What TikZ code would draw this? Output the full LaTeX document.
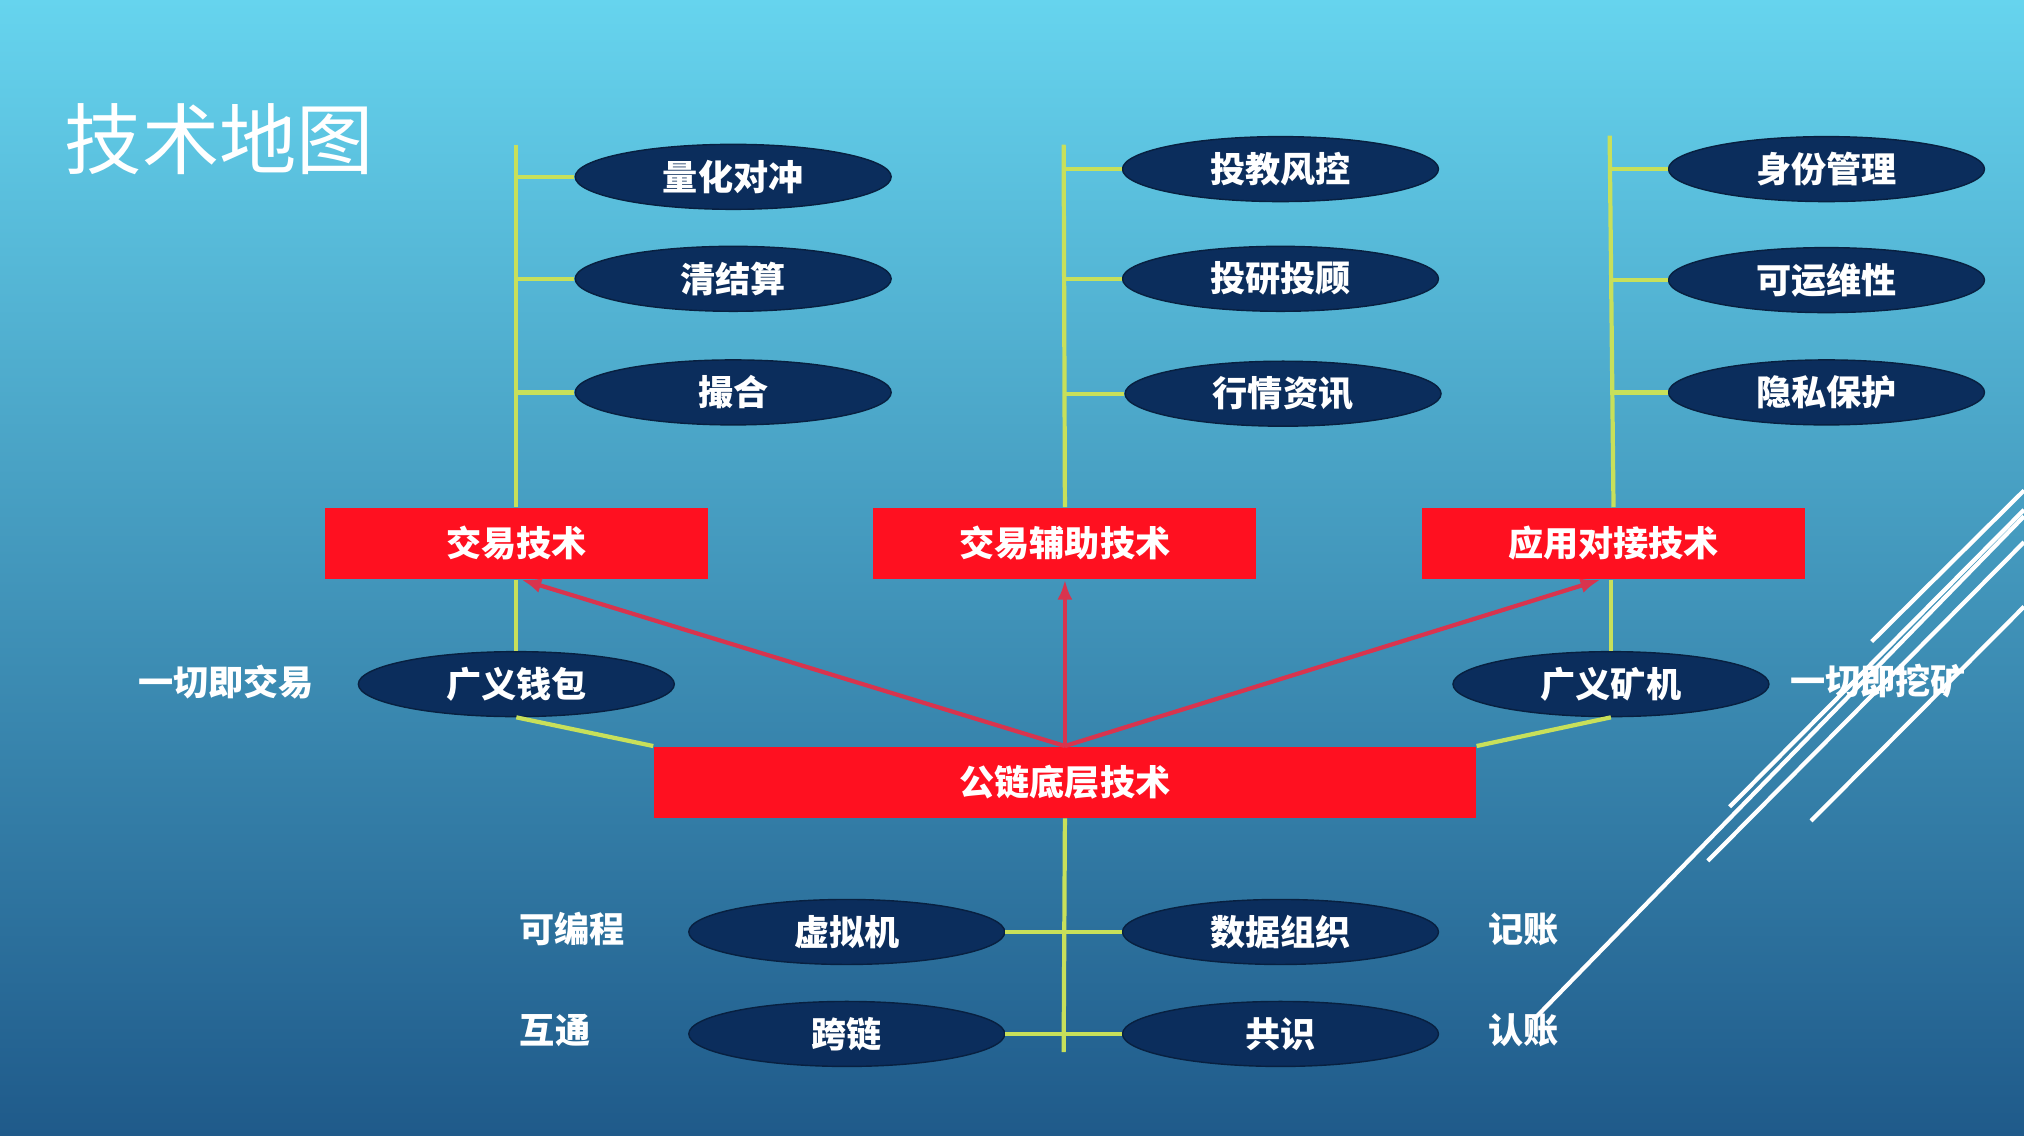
\documentclass[tikz,border=0pt]{standalone}
\usepackage{fontspec}
\newfontfamily\cjk{Noto Sans CJK SC}
\usetikzlibrary{shapes.geometric}
\usetikzlibrary{arrows.meta}
\usetikzlibrary{positioning}
\definecolor{navy}{HTML}{0B2D5C}
\definecolor{boxred}{HTML}{FF1020}
\definecolor{twig}{HTML}{C8E05A}
\definecolor{linkred}{HTML}{D8344E}
\definecolor{skytop}{RGB}{102,212,238}
\definecolor{skybot}{RGB}{31,90,138}
\tikzstyle{leaf} = [ellipse, fill=navy, draw=navy!70!black, minimum width=3.16cm, minimum height=0.65cm, inner sep=0pt, text=white, font=\cjk\bfseries\fontsize{10}{12}\selectfont]
\tikzstyle{tech} = [rectangle, fill=boxred, minimum width=3.83cm, minimum height=0.71cm, inner sep=0pt, text=white, font=\cjk\bfseries\fontsize{10}{12}\selectfont]
\tikzstyle{note} = [text=white, font=\cjk\bfseries\fontsize{10}{12}\selectfont]
\tikzstyle{twigline} = [draw=twig, line width=1.2pt]
\begin{document}
\begin{tikzpicture}[x=0.012909cm,y=-0.012909cm]

		\shade[top color=skytop, bottom color=skybot] (0,0) rectangle (1568,880);
		\useasboundingbox (0,0) rectangle (1568,880);
		\node[text=white, font=\cjk\fontsize{22}{26}\selectfont] (title) at (170,108) {技术地图};
		
		% decorative strokes
		\draw[white, line width=1.2pt] (1188,790) -- (1568,400);
		\draw[white, line width=1.2pt] (1323,667) -- (1568,420);
		\draw[white, line width=1.2pt] (1340,625) -- (1568,395);
		\draw[white, line width=1.2pt] (1403,636) -- (1568,470);
		\draw[white, line width=1.2pt] (1450,497) -- (1568,380);
		
		% top boxes
		\node [tech] (T1) at (400,421) {交易技术};
		\node [tech] (T2) at (825,421) {交易辅助技术};
		\node [tech] (T3) at (1250,421) {应用对接技术};
		\node [tech, minimum width=8.22cm] (B) at (825,606) {公链底层技术};
		
		\coordinate (S1) at (400,112);
		\coordinate (S2) at (824,112);
		\coordinate (S3) at (1247,105);
		\node [leaf] (A1) at (568,137) {量化对冲};
		\node [leaf] (A2) at (568,216) {清结算};
		\node [leaf] (A3) at (568,304) {撮合};
		\node [leaf] (C1) at (992,131) {投教风控};
		\node [leaf] (C2) at (992,216) {投研投顾};
		\node [leaf] (C3) at (994,305) {行情资讯};
		\node [leaf] (D1) at (1415,131) {身份管理};
		\node [leaf] (D2) at (1415,217) {可运维性};
		\node [leaf] (D3) at (1415,304) {隐私保护};
		
		\node [leaf] (W) at (400,530) {广义钱包};
		\node [leaf] (M) at (1248,530) {广义矿机};
		\node [note] (Wn) at (175,528) {一切即交易};
		\node [note] (Mn) at (1455,528) {一切即挖矿};
		
		\node [leaf] (V) at (656,722) {虚拟机};
		\node [leaf] (X) at (656,801) {跨链};
		\node [leaf] (O) at (992,722) {数据组织};
		\node [leaf] (G) at (992,801) {共识};
		\node [note] (Vn) at (443,720) {可编程};
		\node [note] (Xn) at (430,798) {互通};
		\node [note] (On) at (1180,720) {记账};
		\node [note] (Gn) at (1180,798) {认账};
		\coordinate (E) at (824,815);
		
		% connections
		\draw[twigline] (S1) -- (T1.north);
		\draw[twigline] (S2) -- (T2.north);
		\draw[twigline] (S3) -- (T3.north);
		\draw[twigline] (A1.west) -- (A1.west -| S1);
		\draw[twigline] (A2.west) -- (A2.west -| S1);
		\draw[twigline] (A3.west) -- (A3.west -| S1);
		\draw[twigline] (C1.west) -- (C1.west -| S2);
		\draw[twigline] (C2.west) -- (C2.west -| S2);
		\draw[twigline] (C3.west) -- (C3.west -| S2);
		\draw[twigline] (D1.west) -- (D1.west -| S3);
		\draw[twigline] (D2.west) -- (D2.west -| S3);
		\draw[twigline] (D3.west) -- (D3.west -| S3);
		
		\draw[twigline] (T1.south) -- (W.north);
		\draw[twigline] (T3.south -| M) -- (M.north);
		\draw[twigline] (W.south) -- (B.north west);
		\draw[twigline] (M.south) -- (B.north east);
		
		\draw[twigline] (B.south) -- (E);
		\draw[twigline] (V.east) -- (O.west);
		\draw[twigline] (X.east) -- (G.west);
		
		\draw[linkred, line width=1.2pt, -{Latex[length=2mm, width=1.5mm]}] (B.north) -- ([xshift=0.05cm]T1.south);
		\draw[linkred, line width=1.2pt, -{Latex[length=2mm, width=1.5mm]}] (B.north) -- (T2.south);
		\draw[linkred, line width=1.2pt, -{Latex[length=2mm, width=1.5mm]}] (B.north) -- ([xshift=-0.13cm]T3.south);
				
	\end{tikzpicture}
\end{document}
